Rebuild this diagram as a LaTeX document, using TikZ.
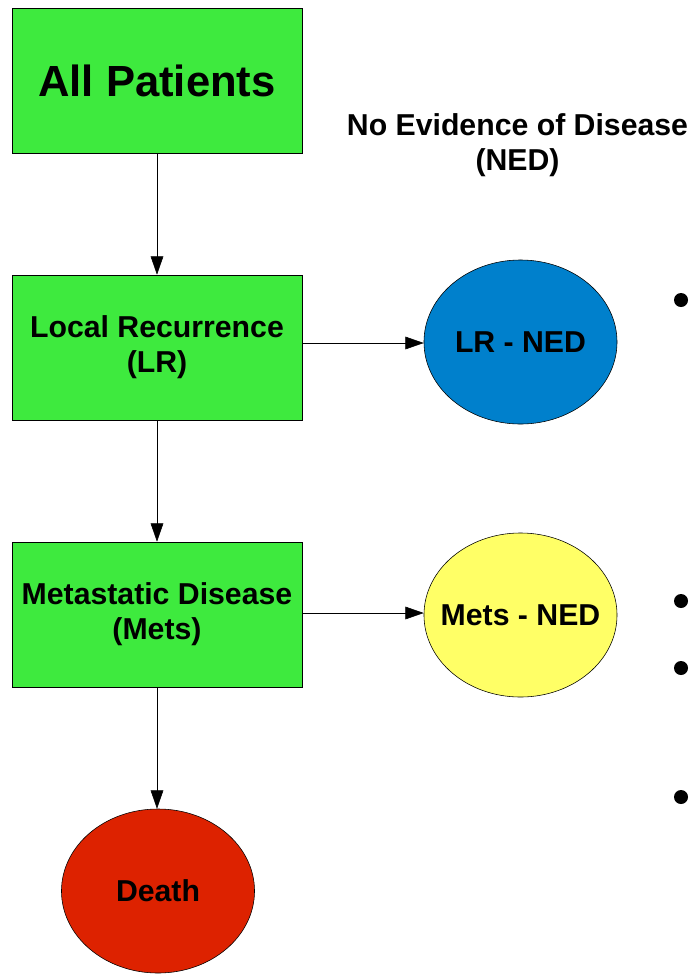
\documentclass[tikz,border=0pt]{standalone}
\usepackage{fontspec}
\setmainfont{Liberation Sans}
\usepackage{tikz}
\usetikzlibrary{shapes, arrows.meta, positioning}
\definecolor{boxgreen}{RGB}{62,234,62}
\definecolor{nedblue}{RGB}{0,128,204}
\definecolor{nedyellow}{RGB}{255,255,102}
\definecolor{deathred}{RGB}{221,34,0}
\tikzstyle{gbox} = [rectangle, draw, fill=boxgreen, minimum width=7.25cm, minimum height=3.625cm, inner sep=0pt, align=center, font=\bfseries\fontsize{21.5}{25}\selectfont]
\tikzstyle{oval} = [ellipse, draw, inner sep=0pt, minimum width=4.825cm, minimum height=4.1cm, font=\bfseries\fontsize{21.5}{25}\selectfont]
\tikzstyle{dot} = [circle, fill, inner sep=0pt, minimum size=0.35cm]
\tikzstyle{line} = [draw, -{Triangle[length=13pt, width=9pt]}]
\newcommand{\ovaltext}[1]{\makebox[0pt]{#1}}

\begin{document}
\begin{tikzpicture}[x=0.025cm, y=-0.025cm]
			\useasboundingbox (0,0) rectangle (692,975);

			\node [gbox, font=\bfseries\fontsize{31}{36}\selectfont] (all) at (157, 80.5) {All Patients};
			\node [gbox] (lr) at (157, 347.5) {Local Recurrence\\(LR)};
			\node [gbox] (mets) at (157, 614.5) {Metastatic Disease\\(Mets)};
			\node [oval, fill=deathred] (death) at (158, 891) {\ovaltext{Death}};
			\node [oval, fill=nedblue] (lrned) at (520.5, 342) {\ovaltext{LR - NED}};
			\node [oval, fill=nedyellow] (metsned) at (520.5, 615) {\ovaltext{Mets - NED}};
			\node [align=center, font=\bfseries\fontsize{21.5}{25}\selectfont] (ned) at (517.5, 145) {No Evidence of Disease\\(NED)};

			\node [dot] (d1) at (681, 300) {};
			\node [dot] (d2) at (681, 601) {};
			\node [dot] (d3) at (681, 668) {};
			\node [dot] (d4) at (681, 797) {};

			\coordinate (lrout) at (302, 343);
			\coordinate (metsout) at (302, 613);
			\path [line] (all) -- (lr);
			\path [line] (lr) -- (mets);
			\path [line] (mets.south) -- (mets.south |- death.north);
			\path [line] (lrout) -- (lrout -| lrned.west);
			\path [line] (metsout) -- (metsout -| metsned.west);
		\end{tikzpicture}
\end{document}
